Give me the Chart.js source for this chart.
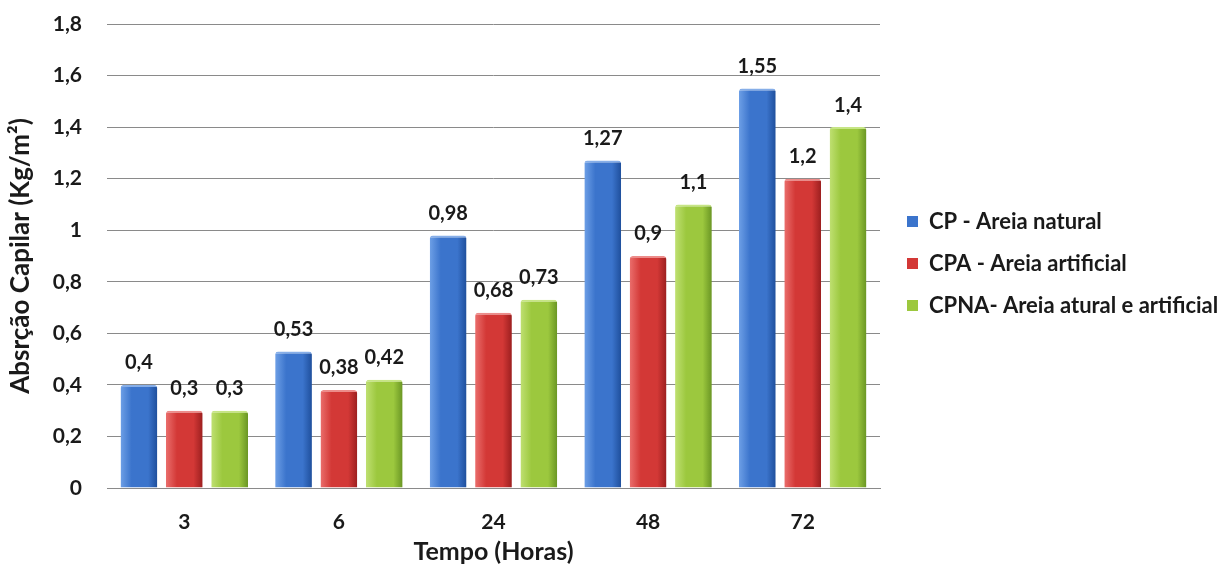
<!DOCTYPE html>
<html><head><meta charset="utf-8">
<script src="https://cdn.jsdelivr.net/npm/chart.js@4/dist/chart.umd.min.js"></script>
<style>html,body{margin:0;padding:0;background:#fff}#wrap{width:1221px;height:569px;position:relative}canvas{display:block}</style>
</head><body><div id="wrap"><canvas id="c" width="1221" height="569" style="width:1221px;height:569px"></canvas></div>
<script>
const categories = ['3', '6', '24', '48', '72'];
const seriesNames = ['CP - Areia natural', 'CPA - Areia artificial', 'CPNA- Areia atural e artificial'];
const cpNatural = [0.4, 0.53, 0.98, 1.27, 1.55];
const cpaArtificial = [0.3, 0.38, 0.68, 0.9, 1.2];
const cpnaMixed = [0.3, 0.42, 0.73, 1.1, 1.4];
const yTickValues = [0, 0.2, 0.4, 0.6, 0.8, 1, 1.2, 1.4, 1.6, 1.8];
const yTitle = 'Absrção Capilar (Kg/m²)';
const xTitle = 'Tempo (Horas)';

const FONT = 'Lato, "Open Sans", sans-serif';
const TXT = '#1a1a1a';
const fmt = v => String(Math.round(v * 100) / 100).replace('.', ',');

function grad(c1, c2, c3) {
  return ctx => {
    const el = ctx.element, chart = ctx.chart;
    if (!el || !isFinite(el.x) || !isFinite(el.width) || !el.width) return c2;
    const g = chart.ctx.createLinearGradient(el.x - el.width / 2, 0, el.x + el.width / 2, 0);
    g.addColorStop(0, c1);
    g.addColorStop(0.3, c2);
    g.addColorStop(0.75, c2);
    g.addColorStop(1, c3);
    return g;
  };
}

const valueLabels = {
  id: 'valueLabels',
  afterDatasetsDraw(chart) {
    const c = chart.ctx;
    c.save();
    c.font = 'bold 20px ' + FONT;
    c.fillStyle = TXT;
    c.textAlign = 'center';
    c.textBaseline = 'middle';
    chart.data.datasets.forEach((ds, i) => {
      chart.getDatasetMeta(i).data.forEach((bar, j) => {
        c.fillText(fmt(ds.data[j]), bar.x, bar.y - 22);
      });
    });
    c.restore();
  }
};

const legendShift = {
  id: 'legendShift',
  afterLayout(chart) {
    const lg = chart.legend;
    if (lg) { lg.left += 7; lg.right += 7; lg.top -= 33; lg.bottom -= 33; }
  }
};

const chart = new Chart(document.getElementById('c'), {
  type: 'bar',
  data: {
    labels: categories,
    datasets: [
      { label: seriesNames[0], data: cpNatural, backgroundColor: grad('#6d9fe6', '#3b74cc', '#1f4f9c'), borderColor: '#86aee8', borderWidth: { top: 2, left: 0, right: 0, bottom: 0 } },
      { label: seriesNames[1], data: cpaArtificial, backgroundColor: grad('#ea6e6c', '#d33836', '#9c1f1f'), borderColor: '#ec8c8a', borderWidth: { top: 2, left: 0, right: 0, bottom: 0 } },
      { label: seriesNames[2], data: cpnaMixed, backgroundColor: grad('#bfe072', '#9cc83e', '#6a9624'), borderColor: '#c6e585', borderWidth: { top: 2, left: 0, right: 0, bottom: 0 } }
    ]
  },
  options: {
    responsive: false,
    maintainAspectRatio: false,
    animation: false,
    devicePixelRatio: 1,
    layout: { padding: { top: 24, left: 4, right: 0, bottom: 0 } },
    datasets: { bar: { categoryPercentage: 0.88, barPercentage: 0.81, borderRadius: { topLeft: 3, topRight: 3 }, borderSkipped: 'bottom' } },
    plugins: {
      legend: {
        position: 'right',
        labels: {
          generateLabels(ch) {
            const solid = ['#3b74cc', '#d33836', '#9cc83e'];
            return ch.data.datasets.map((d, i) => ({ text: d.label, fillStyle: solid[i], strokeStyle: solid[i], lineWidth: 0, datasetIndex: i, fontColor: TXT }));
          },
          boxWidth: 11, boxHeight: 11, padding: 20,
          font: { family: FONT, size: 22, weight: 'bold' }, color: TXT
        }
      },
      tooltip: { enabled: false }
    },
    scales: {
      x: {
        afterFit(s) { s.height = 81; s.paddingLeft = 0; s.paddingRight = 0; },
        grid: { display: false, drawTicks: false },
        border: { display: true, color: '#8a8a8a', width: 1 },
        ticks: { font: { family: FONT, size: 21, weight: 'bold' }, color: TXT, padding: 22 },
        title: { display: true, text: xTitle, font: { family: FONT, size: 25, weight: 'bold' }, color: TXT, padding: { top: 0, bottom: 2 } }
      },
      y: {
        min: 0, max: 1.8,
        afterBuildTicks(s) { s.ticks = yTickValues.map(v => ({ value: v })); },
        afterFit(s) { s.width = 103; s.paddingTop = 0; s.paddingBottom = 0; },
        grid: { color: '#8a8a8a', lineWidth: 1, drawTicks: false },
        border: { display: false },
        ticks: { callback: v => fmt(v), font: { family: FONT, size: 21, weight: 'bold' }, color: TXT, padding: 25 },
        title: { display: true, text: yTitle, font: { family: FONT, size: 26, weight: 'bold' }, color: TXT, padding: { top: 1, bottom: 0 } }
      }
    }
  },
  plugins: [valueLabels, legendShift]
});
const origFit = chart.legend.fit.bind(chart.legend);
chart.legend.fit = function () { origFit(); this.width = 341; };
chart.update('none');
chart.update('none');
</script>
</body></html>
